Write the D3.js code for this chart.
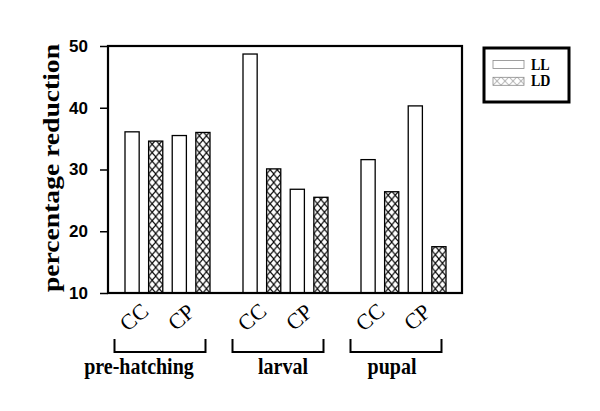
<!DOCTYPE html>
<html>
<head>
<meta charset="utf-8">
<script src="https://cdn.jsdelivr.net/npm/d3@7"></script>
<style>
  body { margin: 0; background: #fff; }
  svg { display: block; }
</style>
</head>
<body>
<script>
'use strict';

// data
const groups = ["pre-hatching", "larval", "pupal"];
const treatments = ["CC", "CP"];
const series = ["LL", "LD"];
// one value per group x treatment, in order
const llValues = [36.1, 35.5, 48.7, 26.8, 31.6, 40.3];
const ldValues = [34.6, 36.0, 30.1, 25.5, 26.4, 17.5];
const yTicks = [10, 20, 30, 40, 50];

(function() {

  // small layout nudges for the group names (not data)
  const groupLabelShift = [-21, 5, -4];
  const stretch = 1.2; // picture is a bit stretched vertically

  const width = 600, height = 411;
  const svg = d3.select('body').append('svg')
    .attr('width', width)
    .attr('height', height);

  const plotLeft = 108, plotRight = 462, plotTop = 46, plotBottom = 293;

  // build rows for the bars
  let rows = [];
  groups.forEach((g, gi) => {
    treatments.forEach((t, ti) => {
      rows.push({ group: g, treatment: t, series: "LL", value: llValues[gi * 2 + ti] });
      rows.push({ group: g, treatment: t, series: "LD", value: ldValues[gi * 2 + ti] });
    });
  });

  let x0 = d3.scaleBand()
    .domain(groups)
    .range([plotLeft, plotRight])
    .padding(0);

  let inner = d3.scaleBand()
    .domain(["CC-LL", "CC-LD", "CP-LL", "CP-LD"])
    .range([17, 102])
    .paddingInner(0.4)
    .paddingOuter(0);

  let y = d3.scaleLinear()
    .domain([10, 50])
    .range([plotBottom, plotTop]);

  let barX = d => x0(d.group) + inner(d.treatment + "-" + d.series);
  let half = inner.bandwidth() / 2;

  // hatch pattern per LD bar so the diamonds line up with each bar
  let defs = svg.append('defs');
  let ldRows = rows.filter(d => d.series == "LD");
  let pats = defs.selectAll('pattern.hatchPat')
    .data(ldRows)
    .enter()
    .append('pattern')
      .attr('class', 'hatchPat')
      .attr('id', (d, i) => 'hatch' + i)
      .attr('patternUnits', 'userSpaceOnUse')
      .attr('x', barX)
      .attr('y', plotBottom)
      .attr('width', half)
      .attr('height', 8.5);
  pats.append('rect')
    .attr('width', half)
    .attr('height', 8.5)
    .attr('fill', '#fff');
  pats.append('path')
    .attr('d', 'M0,0L' + half + ',8.5M' + half + ',0L0,8.5')
    .attr('stroke', '#000')
    .attr('stroke-width', 1.1);

  // legend pattern (grey, lighter)
  let lp = defs.append('pattern')
    .attr('id', 'legendHatch')
    .attr('patternUnits', 'userSpaceOnUse')
    .attr('x', 493)
    .attr('y', 77)
    .attr('width', 8)
    .attr('height', 8.5);
  lp.append('path')
    .attr('d', 'M0,0L8,8.5M8,0L0,8.5')
    .attr('stroke', '#888')
    .attr('stroke-width', 0.8);

  // bars
  svg.selectAll('.bar')
    .data(rows)
    .enter()
    .append('rect')
      .attr('class', 'bar')
      .attr('x', barX)
      .attr('y', d => y(d.value))
      .attr('width', inner.bandwidth())
      .attr('height', d => y(10) - y(d.value))
      .attr('fill', d => d.series == "LL" ? '#fff' : 'url(#hatch' + ldRows.indexOf(d) + ')')
      .attr('stroke', '#000')
      .attr('stroke-width', 1.3);

  // frame
  svg.append('rect')
    .attr('x', plotLeft)
    .attr('y', plotTop)
    .attr('width', plotRight - plotLeft)
    .attr('height', plotBottom - plotTop)
    .attr('fill', 'none')
    .attr('stroke', '#000')
    .attr('stroke-width', 2.2);

  // y axis
  let yAxis = d3.axisLeft(y)
    .tickValues(yTicks)
    .tickSize(8)
    .tickPadding(12);
  let yg = svg.append('g')
    .attr('transform', 'translate(' + plotLeft + ',0)')
    .call(yAxis);
  yg.select('.domain').remove();
  yg.selectAll('line').attr('stroke', '#000').attr('stroke-width', 1.5);
  yg.selectAll('text')
    .attr('font-family', '"Liberation Sans", Arial, sans-serif')
    .attr('font-weight', 'bold')
    .attr('font-size', '17px')
    .attr('fill', '#000');

  // y title
  svg.append('text')
    .attr('transform', 'translate(59,168) rotate(-90) scale(' + stretch + ',1)')
    .attr('text-anchor', 'middle')
    .attr('font-family', '"Liberation Serif", "Times New Roman", serif')
    .attr('font-weight', 'bold')
    .attr('font-size', '23px')
    .text('percentage reduction');

  // CC / CP labels under each pair
  let pairs = [];
  groups.forEach(g => treatments.forEach(t => pairs.push({ group: g, treatment: t })));
  svg.selectAll('.pairLabel')
    .data(pairs)
    .enter()
    .append('text')
      .attr('class', 'pairLabel')
      .attr('transform', d => {
        let cx = x0(d.group) + inner(d.treatment + "-LL") + (inner.step() + inner.bandwidth()) / 2 - 10;
        return 'translate(' + cx + ',317) rotate(-40)';
      })
      .attr('text-anchor', 'middle')
      .attr('dominant-baseline', 'central')
      .attr('font-family', '"Liberation Serif", "Times New Roman", serif')
      .attr('font-size', '22px')
      .text(d => d.treatment);

  // brackets under each group
  let bracketCenter = g => x0(g) + x0.bandwidth() / 2 - 7;
  svg.selectAll('.bracket')
    .data(groups)
    .enter()
    .append('path')
      .attr('class', 'bracket')
      .attr('d', g => {
        let c = bracketCenter(g);
        return 'M' + (c - 45.5) + ',339V352H' + (c + 45.5) + 'V339';
      })
      .attr('fill', 'none')
      .attr('stroke', '#000')
      .attr('stroke-width', 2);

  // group names
  svg.selectAll('.groupLabel')
    .data(groups)
    .enter()
    .append('text')
      .attr('class', 'groupLabel')
      .attr('transform', (g, i) => 'translate(' + (bracketCenter(g) + groupLabelShift[i]) + ',374) scale(1,' + stretch + ')')
      .attr('text-anchor', 'middle')
      .attr('font-family', '"Liberation Serif", "Times New Roman", serif')
      .attr('font-weight', 'bold')
      .attr('font-size', '20px')
      .text(g => g);

  // legend
  let legend = svg.append('g');
  legend.append('rect')
    .attr('x', 484)
    .attr('y', 48)
    .attr('width', 85)
    .attr('height', 54)
    .attr('fill', '#fff')
    .attr('stroke', '#000')
    .attr('stroke-width', 3);
  let legendItems = legend.selectAll('.item')
    .data(series)
    .enter()
    .append('g')
      .attr('class', 'item')
      .attr('transform', (s, i) => 'translate(0,' + (i * 16.8) + ')');
  legendItems.append('rect')
    .attr('x', 493)
    .attr('y', 60.5)
    .attr('width', 31)
    .attr('height', 8)
    .attr('fill', s => s == "LL" ? '#fff' : 'url(#legendHatch)')
    .attr('stroke', '#888')
    .attr('stroke-width', 0.8);
  legendItems.append('text')
    .attr('transform', 'translate(531,69.5) scale(1,' + stretch + ')')
    .attr('font-family', '"Liberation Serif", "Times New Roman", serif')
    .attr('font-weight', 'bold')
    .attr('font-size', '14px')
    .text(s => s);

})();
</script>
</body>
</html>
